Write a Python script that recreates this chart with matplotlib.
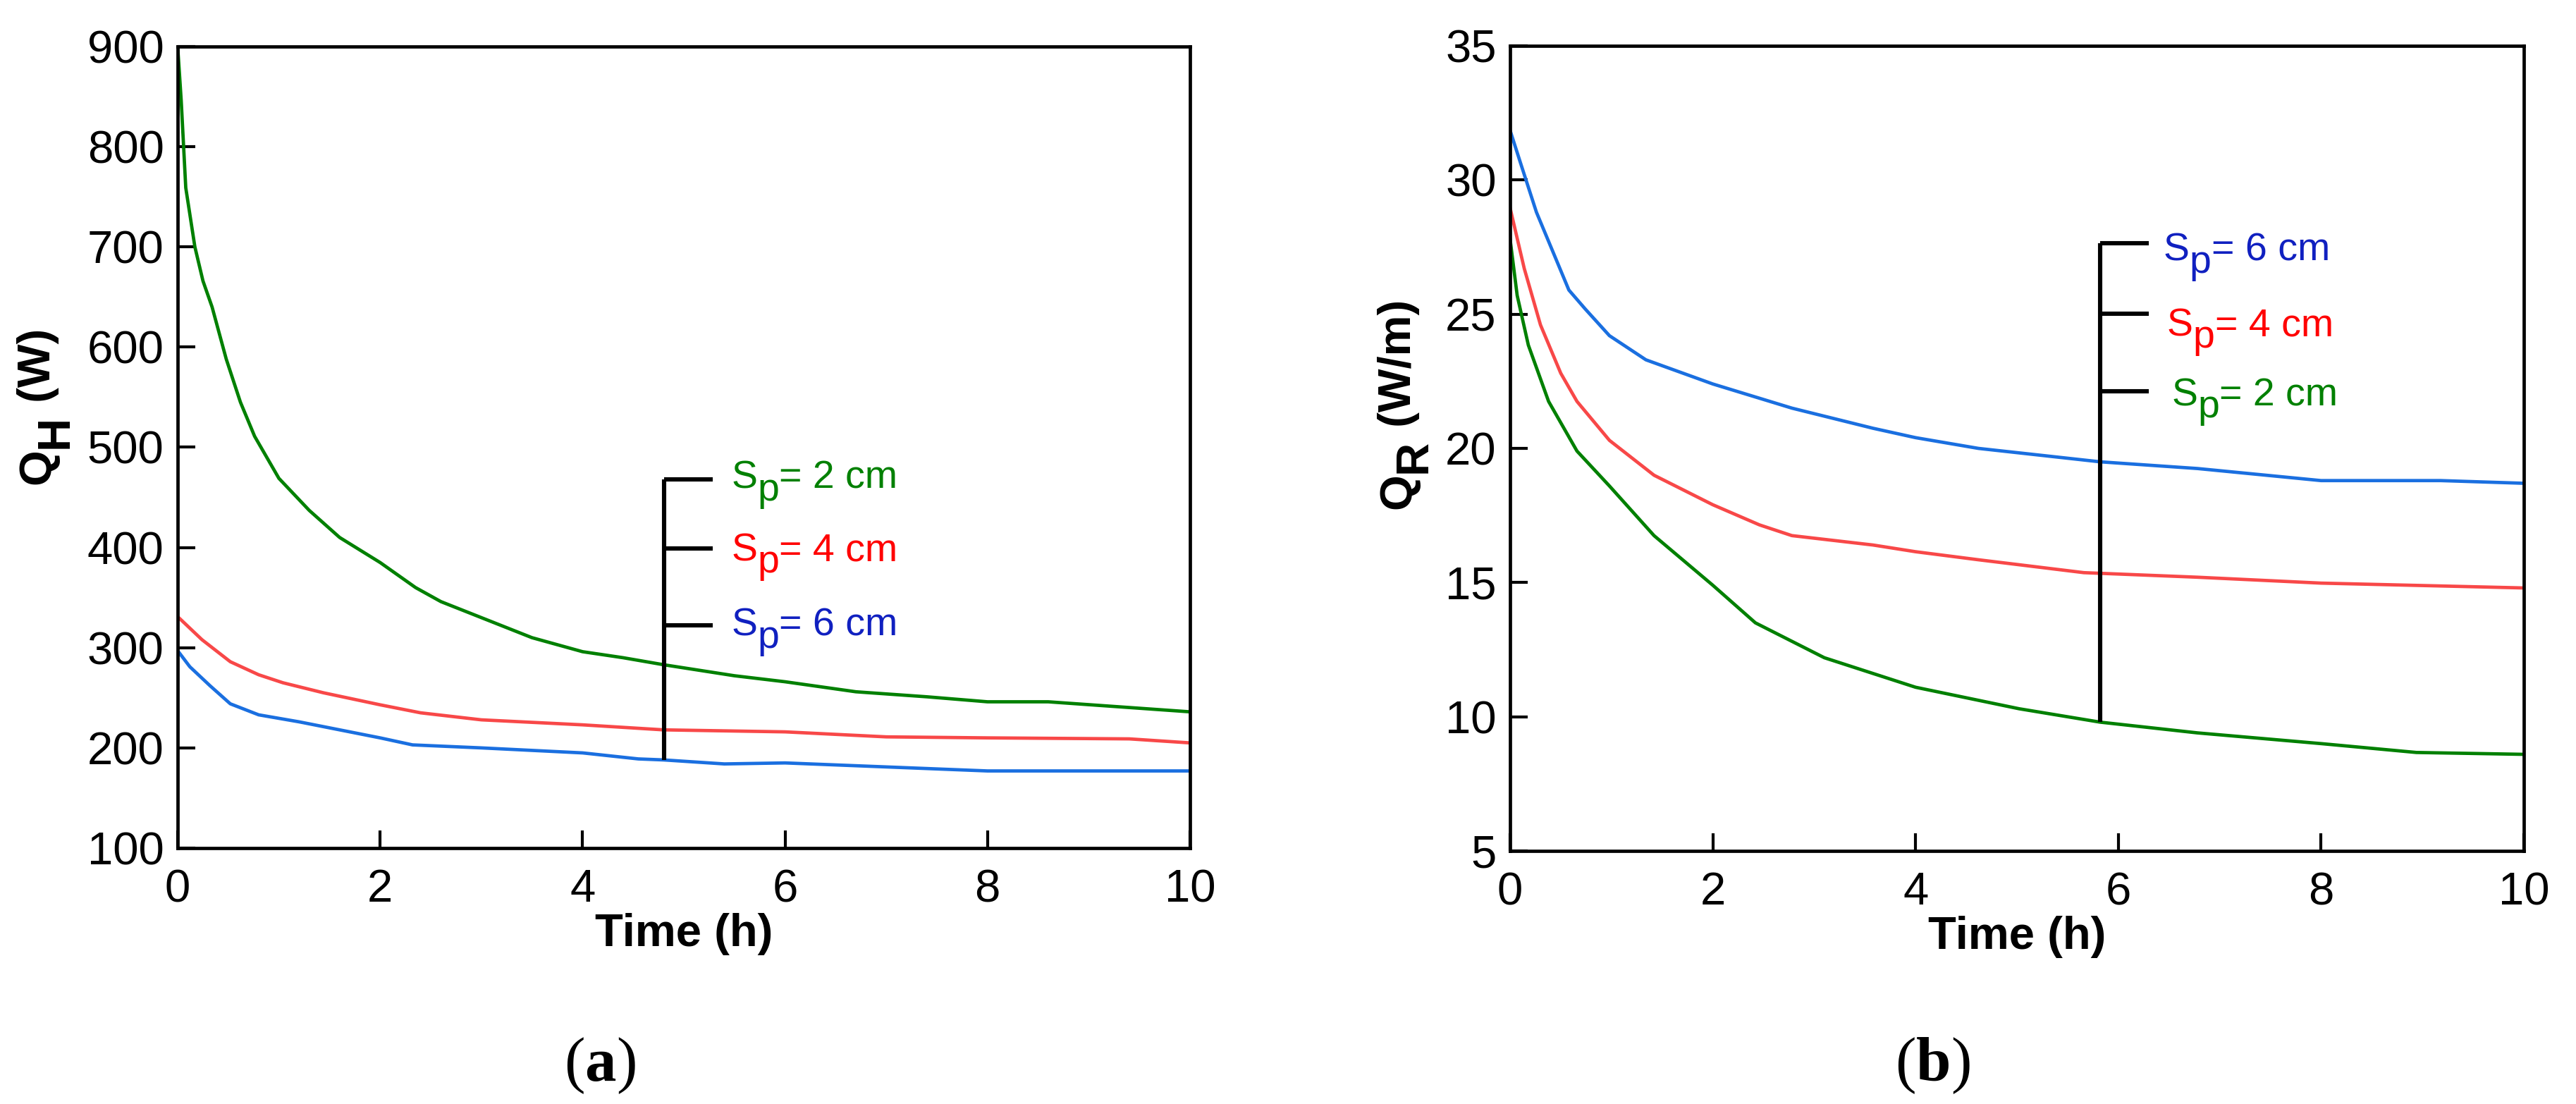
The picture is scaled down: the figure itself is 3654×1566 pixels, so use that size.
import matplotlib
matplotlib.use('Agg')
import matplotlib.pyplot as plt
import matplotlib.transforms as transforms

plt.rcParams['font.family'] = ['Liberation Sans', 'DejaVu Sans']

# ---- data ----
# (a) heat flow Q_H (W) vs time (h)
t_a_2cm = [0, 0.035, 0.08, 0.17, 0.25, 0.34, 0.48, 0.62, 0.76, 1.0, 1.3, 1.6, 2.0, 2.35, 2.6, 3.0,
           3.5, 4.0, 4.4, 4.8, 5.5, 6.0, 6.7, 7.4, 8.0, 8.6, 9.3, 10]
qh_2cm = [900, 846, 759, 700, 666, 640, 588, 545, 511, 469, 437, 410, 385, 360, 346, 330,
          310, 296, 290, 283, 272, 266, 256, 251, 246, 246, 241, 236]
t_a_4cm = [0, 0.24, 0.52, 0.8, 1.04, 1.44, 2.0, 2.4, 3.0, 4.0, 4.8, 6.0, 7.0, 8.0, 9.4, 10]
qh_4cm = [331, 308, 286, 273, 265, 255, 243, 235, 228, 223, 218, 216, 211, 210, 209, 205]
t_a_6cm = [0, 0.12, 0.32, 0.52, 0.8, 1.2, 1.6, 2.0, 2.32, 3.0, 4.0, 4.55, 4.8, 5.4, 6.0, 7.0, 8.0, 10]
qh_6cm = [297, 281, 262, 244, 233, 226, 218, 210, 203, 200, 195, 189, 188, 184, 185, 181, 177, 177]

# (b) heat flow per length Q_R (W/m) vs time (h)
t_b_6cm = [0, 0.1, 0.26, 0.58, 0.74, 0.98, 1.34, 2.0, 2.78, 3.58, 4.0, 4.62, 5.82, 6.78, 8.0, 9.18, 10]
qr_6cm = [31.85, 30.67, 28.8, 25.9, 25.2, 24.2, 23.3, 22.4, 21.5, 20.75, 20.4, 20.0, 19.5, 19.25,
          18.8, 18.8, 18.7]
t_b_4cm = [0, 0.14, 0.3, 0.5, 0.66, 0.98, 1.42, 2.0, 2.46, 2.78, 3.58, 4.0, 4.62, 5.66, 6.78, 8.0, 10]
qr_4cm = [28.96, 26.7, 24.6, 22.8, 21.75, 20.3, 19.0, 17.9, 17.15, 16.75, 16.4, 16.15, 15.85, 15.37,
          15.2, 14.98, 14.8]
t_b_2cm = [0, 0.07, 0.18, 0.38, 0.66, 0.98, 1.42, 2.0, 2.42, 3.1, 4.0, 5.02, 5.82, 6.78, 8.0, 8.94, 10]
qr_2cm = [27.8, 25.7, 23.85, 21.75, 19.9, 18.6, 16.75, 14.9, 13.5, 12.2, 11.1, 10.3, 9.8, 9.4,
          9.0, 8.67, 8.6]

x_ticks = [0, 2, 4, 6, 8, 10]
ya_ticks = [100, 200, 300, 400, 500, 600, 700, 800, 900]
yb_ticks = [5, 10, 15, 20, 25, 30, 35]

line_green = '#008000'
line_red = '#f84848'
line_blue = '#1a6fe0'
txt_green = '#008000'
txt_red = '#ff0000'
txt_blue = '#1020c0'

fig = plt.figure(figsize=(18.275, 7.83), dpi=200)
ax1 = fig.add_axes([0.06895, 0.2318, 0.39288, 0.7261])
ax2 = fig.add_axes([0.58605, 0.2292, 0.39343, 0.7293])

lw = 1.7
ax1.plot(t_a_2cm, qh_2cm, color=line_green, lw=lw)
ax1.plot(t_a_4cm, qh_4cm, color=line_red, lw=lw)
ax1.plot(t_a_6cm, qh_6cm, color=line_blue, lw=lw)

ax2.plot(t_b_6cm, qr_6cm, color=line_blue, lw=lw)
ax2.plot(t_b_4cm, qr_4cm, color=line_red, lw=lw)
ax2.plot(t_b_2cm, qr_2cm, color=line_green, lw=lw)

ax1.set_xlim(0, 10)
ax1.set_ylim(100, 900)
ax1.set_yticks(ya_ticks)
ax2.set_xlim(0, 10)
ax2.set_ylim(5, 35)
ax2.set_yticks(yb_ticks)

for ax in (ax1, ax2):
    ax.set_xticks(x_ticks)
    ax.tick_params(direction='in', length=9, width=1.5, labelsize=23.5, top=False, right=False)
    ax.tick_params(axis='x', pad=10.5)
    ax.tick_params(axis='y', pad=7)
    for s in ax.spines.values():
        s.set_linewidth(1.7)
    ax.set_xlabel('Time (h)', fontsize=23.5, fontweight='bold', labelpad=1)

fig.canvas.draw()
renderer = fig.canvas.get_renderer()


def rich_text(base, x, y, parts, rotation=0, size=20, color='black', family=None):
    # parts: (text, drop in px, weight) drawn one after another
    offset = 0
    for s, drop, weight in parts:
        if rotation == 90:
            tr = transforms.offset_copy(base, fig=fig, x=drop, y=offset, units='dots')
        else:
            tr = transforms.offset_copy(base, fig=fig, x=offset, y=-drop, units='dots')
        kw = {}
        if family:
            kw['family'] = family
        t = fig.text(x, y, s, transform=tr, rotation=rotation, rotation_mode='anchor',
                     ha='left', va='baseline', fontsize=size, color=color,
                     fontweight=weight, **kw)
        bb = t.get_window_extent(renderer)
        offset += bb.height if rotation == 90 else bb.width


# y labels with full-size lowered subscripts
rich_text(fig.transFigure, 0.01943, 0.5613,
          [('Q', 0, 'bold'), ('H', 25, 'bold'), (' (W)', 0, 'bold')], rotation=90, size=23.5)
rich_text(fig.transFigure, 0.5475, 0.5390,
          [('Q', 0, 'bold'), ('R', 22, 'bold'), (' (W/m)', 0, 'bold')], rotation=90, size=23.5)

# bracket labels, panel (a)
ax1.plot([4.805, 4.805], [188, 468], color='black', lw=2.2, solid_capstyle='butt')
for yy in [468, 399, 322]:
    ax1.plot([4.805, 5.285], [yy, yy], color='black', lw=2.2, solid_capstyle='butt')
for (yy, lab, c) in [(459, '= 2 cm', txt_green), (387, '= 4 cm', txt_red), (312, '= 6 cm', txt_blue)]:
    rich_text(ax1.transData, 5.47, yy, [('S', 0, 'normal'), ('p', 17, 'normal'), (lab, 0, 'normal')],
              size=20, color=c)

# bracket labels, panel (b)
ax2.plot([5.82, 5.82], [9.8, 27.65], color='black', lw=2.2, solid_capstyle='butt')
for yy in [27.65, 25.02, 22.13]:
    ax2.plot([5.82, 6.30], [yy, yy], color='black', lw=2.2, solid_capstyle='butt')
for (xx, yy, lab, c) in [(6.445, 26.99, '= 6 cm', txt_blue), (6.48, 24.2, '= 4 cm', txt_red),
                         (6.525, 21.6, '= 2 cm', txt_green)]:
    rich_text(ax2.transData, xx, yy, [('S', 0, 'normal'), ('p', 17, 'normal'), (lab, 0, 'normal')],
              size=20, color=c)

# panel captions
serif = ['Liberation Serif', 'DejaVu Serif']
for (xx, letter) in [(0.2189, 'a'), (0.7355, 'b')]:
    rich_text(fig.transFigure, xx, 0.0211, [('(', 0, 'normal'), (letter, 0, 'bold'), (')', 0, 'normal')],
              size=32, family=serif)

fig.savefig('out.png', dpi=200)
